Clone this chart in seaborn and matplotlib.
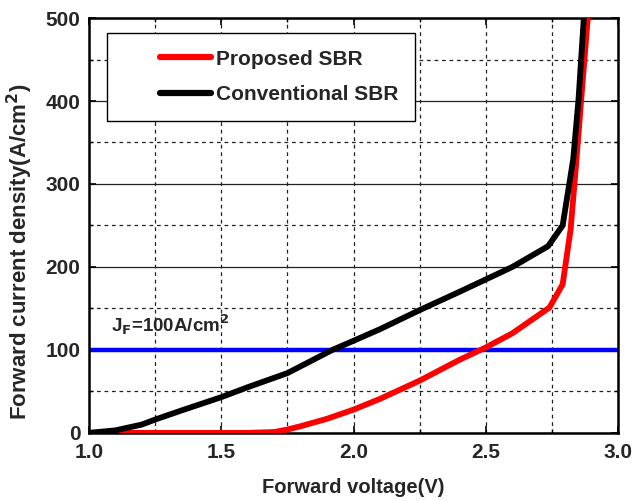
import matplotlib
matplotlib.use("Agg")
import matplotlib.pyplot as plt
import seaborn as sns
import pandas as pd
import numpy as np
from matplotlib.ticker import MultipleLocator
from matplotlib.legend_handler import HandlerLine2D

# Data
v_proposed = [1.0, 1.2, 1.4, 1.6, 1.7, 1.75, 1.8, 1.9, 2.0, 2.1, 2.25, 2.4, 2.5, 2.6, 2.74, 2.79, 2.82, 2.84, 2.86, 2.885]
j_proposed = [0, 0, 0, 0, 1, 4, 8, 17, 28, 41, 63, 88, 103, 120, 151, 179, 245, 321, 402, 500]

v_conventional = [1.0, 1.1, 1.2, 1.25, 1.35, 1.5, 1.6, 1.75, 1.92, 2.0, 2.1, 2.25, 2.4, 2.5, 2.6, 2.735, 2.79, 2.83, 2.85, 2.87]
j_conventional = [0, 3, 10, 16, 27, 43, 55, 72, 100, 111, 125, 148, 170, 185, 200, 225, 250, 330, 402, 500]

series_names = ["Proposed SBR", "Conventional SBR"]
series_colors = ["#ff0000", "#000000"]
jf_level = 100
x_ticks = [1.0, 1.5, 2.0, 2.5, 3.0]
x_tick_labels = ["1.0", "1.5", "2.0", "2.5", "3.0"]

df = pd.concat([
    pd.DataFrame({"V": v_proposed, "J": j_proposed, "series": series_names[0]}),
    pd.DataFrame({"V": v_conventional, "J": j_conventional, "series": series_names[1]}),
])

sns.set_style("white")
plt.rcParams["font.family"] = ["Liberation Sans", "DejaVu Sans"]
plt.rcParams["font.weight"] = "bold"


class RightHandler(HandlerLine2D):
    def get_xdata(self, legend, xdescent, ydescent, width, height, fontsize):
        x0 = -xdescent + width * 0.42
        x1 = -xdescent + width
        return np.array([x0, x1]), np.array([(x0 + x1) / 2])


fig = plt.figure(figsize=(6.44, 5.01), dpi=100)
ax = fig.add_axes([0.138, 0.136, 0.822, 0.828])

ax.set_xlim(1.0, 3.0)
ax.set_ylim(0, 500)
ax.xaxis.set_major_locator(MultipleLocator(0.5))
ax.xaxis.set_minor_locator(MultipleLocator(0.25))
ax.yaxis.set_major_locator(MultipleLocator(100))
ax.yaxis.set_minor_locator(MultipleLocator(50))
ax.grid(False)
ax.grid(axis="x", which="both", linestyle=(0, (3, 3)), color="#222222", linewidth=0.9)
ax.grid(axis="y", which="major", linestyle="-", color="#222222", linewidth=0.9)
ax.grid(axis="y", which="minor", linestyle=(0, (3, 3)), color="#222222", linewidth=0.9)
ax.set_axisbelow(True)

ax.axhline(jf_level, color="#0000ff", linewidth=3.2, zorder=2)

sns.lineplot(data=df, x="V", y="J", hue="series", palette=series_colors,
             hue_order=series_names, linewidth=4.2, sort=False, ax=ax, legend=True, zorder=3)

ax.text(1.085, 130, r"J$_{\mathbf{F}}$=100A/cm$^{\mathbf{2}}$", fontsize=13.5, fontweight="bold", va="center")

for s in ax.spines.values():
    s.set_visible(True)
    s.set_color("black")
    s.set_linewidth(1.8)

ax.tick_params(which="both", direction="in", top=True, right=True, bottom=True, left=True, color="black")
ax.tick_params(which="major", length=5, width=1.2, labelsize=15)
ax.tick_params(axis="x", which="major", pad=7)
ax.tick_params(axis="y", which="major", pad=6)
ax.tick_params(which="minor", length=3, width=1)
ax.set_xticks(x_ticks)
ax.set_xticklabels(x_tick_labels, fontweight="bold", fontsize=15)
for lab in ax.get_yticklabels():
    lab.set_fontweight("bold")

ax.set_xlabel("Forward voltage(V)", fontsize=14.5, fontweight="bold")
ax.set_ylabel(r"Forward current density(A/cm$^{\mathbf{2}}$)", fontsize=16, fontweight="bold")
ax.xaxis.set_label_coords(0.5, -0.11)
ax.yaxis.set_label_coords(-0.102, 0.436)

handles, labels = ax.get_legend_handles_labels()
leg = ax.legend(handles, labels, loc="upper left", bbox_to_anchor=(0.034, 0.964),
                borderaxespad=0, frameon=True, fancybox=False, edgecolor="black", framealpha=1,
                prop={"weight": "bold", "size": 15}, handlelength=4.2, borderpad=0.8,
                handletextpad=0.25, labelspacing=0.8,
                handler_map={h: RightHandler() for h in handles})
leg.get_frame().set_linewidth(1.0)
for line in leg.get_lines():
    line.set_linewidth(4.5)

fig.savefig("out.png", dpi=100)
